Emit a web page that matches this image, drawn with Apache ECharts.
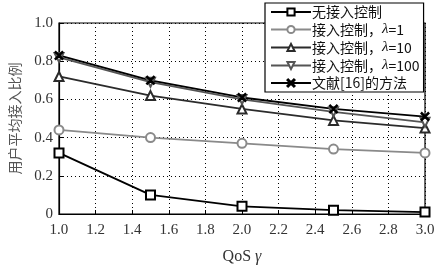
<!DOCTYPE html>
<html><head><meta charset="utf-8">
<script src="https://cdn.jsdelivr.net/npm/echarts@6/dist/echarts.min.js"></script>
<style>html,body{margin:0;padding:0;background:#fff}#c{width:444px;height:272px}</style>
</head><body><div id="c"></div>
<script>
const qos = [1.0, 1.5, 2.0, 2.5, 3.0];
const noControl = [0.32, 0.10, 0.04, 0.02, 0.01];
const lambda1 = [0.44, 0.40, 0.37, 0.34, 0.32];
const lambda10 = [0.72, 0.62, 0.55, 0.49, 0.45];
const lambda100 = [0.82, 0.69, 0.60, 0.535, 0.48];
const ref16 = [0.83, 0.70, 0.61, 0.55, 0.51];
const names = ['无接入控制', '接入控制，λ=1', '接入控制，λ=10', '接入控制，λ=100', '文献[16]的方法'];

const crossPath = 'path://M0,1L1,0L5,4L9,0L10,1L6,5L10,9L9,10L5,6L1,10L0,9L4,5Z';
function pts(arr){ return qos.map((x,i)=>[x, arr[i]]); }
function mk(name, data, color, symbol, opts){
  return Object.assign({
    name: name, type: 'line', data: pts(data), symbol: symbol, symbolSize: 9,
    lineStyle: {color: color, width: 1.8},
    itemStyle: {color: color, borderColor: color, borderWidth: 1.4},
    z: 3
  }, opts || {});
}
const serif = 'Liberation Serif';
const chart = echarts.init(document.getElementById('c'), null, {renderer: 'canvas'});
chart.setOption({
  animation: false,
  backgroundColor: '#fff',
  grid: {left: 56, right: 19, top: 23, bottom: 58, show: true, borderColor: '#000', borderWidth: 1.2},
  xAxis: {
    type: 'value', min: 1, max: 3, interval: 0.2,
    name: 'QoS {g|γ}', nameLocation: 'middle', nameGap: 35,
    nameTextStyle: {fontFamily: serif, fontSize: 16, color: '#333',
      rich: {g: {fontFamily: serif, fontStyle: 'italic', fontSize: 16, color: '#333'}}},
    axisLine: {show: true, lineStyle: {color: '#000', width: 1.2}},
    axisTick: {show: true, inside: true, length: 4, lineStyle: {color: '#000'}},
    axisLabel: {fontFamily: serif, fontSize: 15, color: '#333', margin: 9,
      formatter: v => v.toFixed(1)},
    splitLine: {show: true, lineStyle: {color: '#000', type: [1, 3], width: 1}}
  },
  yAxis: {
    type: 'value', min: 0, max: 1, interval: 0.2,
    name: '用户平均接入比例', nameLocation: 'middle', nameGap: 37,
    nameTextStyle: {fontFamily: 'Noto Sans CJK SC', fontSize: 14, color: '#555'},
    axisLine: {show: true, lineStyle: {color: '#000', width: 1.2}},
    axisTick: {show: true, inside: true, length: 4, lineStyle: {color: '#000'}},
    axisLabel: {fontFamily: serif, fontSize: 15, color: '#333', margin: 6,
      formatter: v => v === 0 ? '0' : v.toFixed(1)},
    splitLine: {show: true, lineStyle: {color: '#000', type: [1, 3], width: 1}}
  },
  legend: {
    orient: 'vertical', left: 265, top: 3, itemWidth: 40, itemHeight: 9, itemGap: 3,
    padding: [2, 4, 2, 5],
    backgroundColor: '#fff', borderColor: '#000', borderWidth: 1.2,
    data: names,
    formatter: function(n){
      return n.replace('λ', '{i|λ}');
    },
    textStyle: {fontFamily: 'Noto Sans CJK SC', fontSize: 14, lineHeight: 14, color: '#111', padding: [0,0,0,-4],
      rich: {i: {fontFamily: serif, fontStyle: 'italic', fontSize: 15, lineHeight: 14, color: '#111'}}}
  },
  series: [
    mk(names[0], noControl, '#000', 'emptyRect'),
    mk(names[1], lambda1, '#8a8a8a', 'emptyCircle'),
    mk(names[2], lambda10, '#2b2b2b', 'emptyTriangle'),
    mk(names[3], lambda100, '#555', 'emptyTriangle', {symbolRotate: 180}),
    mk(names[4], ref16, '#000', crossPath, {symbolSize: 8})
  ]
});
</script>
</body></html>
